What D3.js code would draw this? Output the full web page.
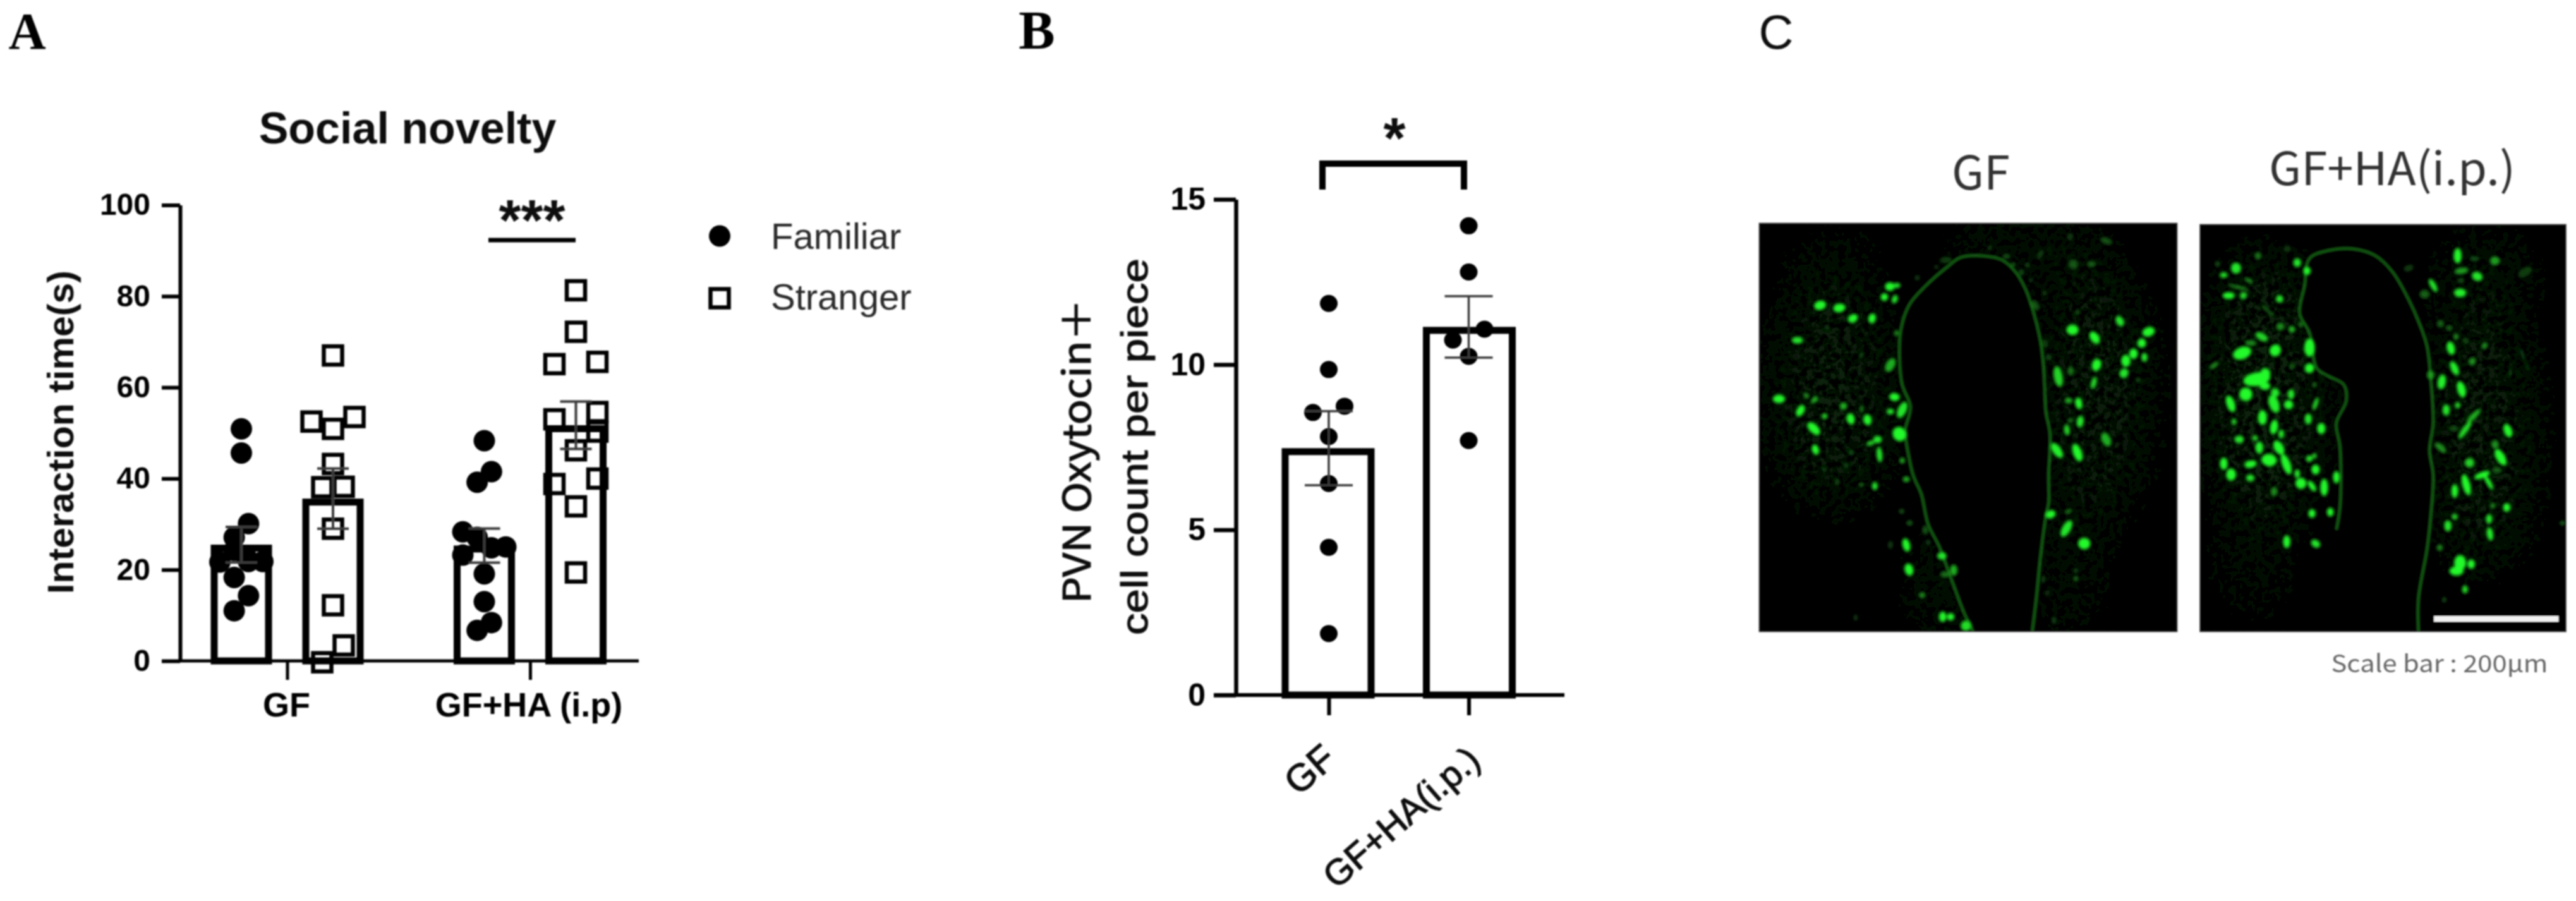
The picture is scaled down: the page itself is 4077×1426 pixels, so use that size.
<!DOCTYPE html>
<html><head><meta charset="utf-8">
<script src="https://cdn.jsdelivr.net/npm/d3@7/dist/d3.min.js"></script>
<style>
html,body{margin:0;padding:0;background:#fff}
svg{display:block}
text{font-family:"Liberation Sans",Arial,sans-serif}
</style></head><body><svg id="c" width="4077" height="1426"></svg>
<script>
// ---------- Panel A data ----------
const groupsA = ["GF", "GF+HA (i.p)"];
const seriesA = ["Familiar", "Stranger"];
const ticksA = [0, 20, 40, 60, 80, 100];
const meansA = [[25.5, 35.6], [25.3, 51.7]];
const semsA = [[3.9, 6.6], [3.75, 5.2]];
const gfFamiliar = [50.9, 45.6, 30.1, 27.1, 24.2, 21.8, 21.8, 21.7, 18.3, 14.3, 11, 23];
const gfFamiliarSlot = [0, 0, 1, -1, -1, 1, 3, -3, -1, 1, -1, 0.6];
const gfStranger = [67, 52.5, 53.5, 50.9, 43.2, 38.1, 38.2, 29, 12.2, 3.4, -0.3];
const gfStrangerSlot = [0, -3, 3, 0, 0, -1.5, 1.5, 0, 0, 1.5, -1.5];
const haFamiliar = [48.3, 41.5, 39.2, 28.3, 27.1, 23.2, 24.8, 25, 19.1, 13, 8.4, 6.7];
const haFamiliarSlot = [0, 1, -1, -3, -1, -3, 1, 3, 0, 0, 1, -1];
const haStranger = [81.3, 72.2, 65.1, 65.6, 54.6, 53, 46.2, 50.3, 38.8, 40, 33.9, 19.4];
const haStrangerSlot = [0, 0, -3, 3, 3, -3, 0, 3, -3, 3, 0, 0];
// ---------- Panel B data ----------
const groupsB = ["GF", "GF+HA(i.p.)"];
const ticksB = [0, 5, 10, 15];
const meansB = [7.47, 11.14];
const semsB = [1.12, 0.93];
const pointsB = [[11.85, 9.85, 8.55, 8.74, 7.82, 6.4, 4.47, 1.86], [14.2, 12.8, 11.07, 10.74, 10.25, 7.7]];
const slotsB = [[0, 0, -1, 1, 0, 0, 0, 0], [0, 0, 1, -1, 0, 0]];
// ---------- Panel C micrograph features: [x, y, rx, ry, tilt, level], in micrograph units ----------
const cellsGF = [[255,330,20,15,-15,1],[325,340,20,14,-10,1],[375,378,17,13,-30,1],[445,378,12,16,15,1],[510,262,16,14,0,1],[535,258,12,8,0,.9],[490,300,12,12,0,1],[528,308,9,14,20,.9],[172,458,18,11,0,.9],[105,672,20,14,0,1],[183,715,12,20,30,1],[205,660,8,10,-40,.6],[235,675,14,8,-40,.7],[340,698,12,12,0,.7],[272,735,9,9,0,.8],[367,745,13,18,-10,1],[428,748,13,18,-10,1],[407,708,6,12,0,.5],[527,665,17,13,5,1],[512,718,12,9,0,.9],[555,712,14,28,25,.9],[232,780,14,26,-45,1],[238,857,11,17,-15,1],[545,800,22,24,-30,1],[465,820,14,12,0,.9],[440,833,14,7,-20,.8],[472,875,9,25,-5,.9],[555,897,8,9,0,.7],[570,965,11,9,0,.7],[455,990,9,13,0,.9],[405,985,7,5,0,.6],[512,548,14,24,30,.7],[535,432,8,9,0,.6],[370,868,8,8,0,.35],[350,915,8,8,0,.35],[318,975,8,10,0,.3],[272,930,8,8,0,.3],[406,513,6,10,30,.35],[280,410,9,8,0,.25],[570,1205,12,22,-15,1],[580,1295,14,20,-15,1],[700,1245,15,12,0,.9],[743,1297,12,18,0,.7],[712,1312,16,10,0,.5],[628,1388,10,9,0,.6],[703,1467,12,17,0,1],[732,1467,12,12,0,1],[788,1500,17,17,0,.85],[512,1205,8,12,0,.3],[582,1125,9,8,0,.45],[553,1082,8,8,0,.4],[640,1150,10,14,0,.4],[650,1195,7,8,0,.35],[385,1470,6,10,0,.3],[1177,420,20,17,0,1],[1258,448,14,22,-35,1],[1350,388,12,18,-30,.9],[1455,427,21,15,-20,1],[1430,468,14,15,0,1],[1400,507,14,17,0,1],[1440,520,10,14,0,.9],[1372,533,15,20,0,1],[1365,578,14,16,30,.9],[1265,548,15,20,20,1],[1255,613,9,20,15,.8],[1125,590,14,34,-10,.8],[1170,570,10,15,0,.5],[1200,688,11,19,-10,1],[1162,678,12,9,0,.7],[1205,755,11,19,10,.9],[1157,785,9,18,-10,.8],[1170,750,10,7,0,.45],[1300,820,14,24,-25,.7],[1120,860,14,28,-35,.95],[1195,868,14,30,-20,1],[1097,1093,17,13,-20,1],[1162,1083,12,7,-25,.5],[1155,1145,14,30,30,.9],[1220,1200,20,19,0,1],[1180,180,16,16,0,.4],[1247,180,14,9,0,.45],[1300,95,20,10,20,.4],[1168,80,10,12,0,.3],[1060,145,8,18,30,.3],[1040,330,12,18,-30,.4],[1190,1328,8,8,0,.45],[1190,1298,7,7,0,.35],[1110,1480,7,12,0,.35],[1070,1330,7,12,0,.3],[1085,1380,7,8,0,.25],[1195,355,8,8,0,.3],[1075,285,8,7,0,.3],[1090,520,10,10,0,.35],[1075,470,12,14,0,.3],[1418,602,8,8,0,.3],[960,182,7,7,0,.45],[1012,183,7,7,0,.4],[990,210,10,10,0,.35],[1025,238,6,6,0,.35],[935,152,12,8,0,.4],[875,120,7,7,0,.3],[610,230,8,8,0,.3],[715,165,20,10,0,.3],[680,190,6,6,0,.3]];
const cellsHA = [[180,195,18,18,0,.9],[130,220,14,9,0,.85],[150,295,22,11,0,1],[210,295,12,12,40,.8],[232,240,18,6,30,.6],[190,265,40,5,15,.6],[270,150,12,12,0,.5],[105,180,8,8,0,.4],[430,175,14,14,0,.9],[470,205,13,13,0,1],[390,125,12,10,0,.3],[358,307,13,12,0,.9],[310,350,30,5,40,.4],[360,408,14,12,0,.6],[408,418,12,11,0,.7],[445,400,8,10,0,.5],[480,485,19,30,0,1],[480,560,17,16,30,1],[285,445,25,12,30,.8],[240,468,20,8,0,.6],[340,495,20,20,30,1],[205,505,34,20,-20,1],[90,550,18,7,-35,.6],[265,600,50,22,-10,1],[300,580,18,18,0,1],[298,625,20,12,0,1],[220,655,24,22,0,1],[158,690,15,28,-20,1],[340,650,15,15,0,.9],[405,655,12,16,0,.9],[395,693,16,15,0,1],[335,690,18,30,-20,.95],[288,740,16,24,0,1],[172,755,9,10,0,.8],[505,690,8,22,20,.8],[475,745,13,18,0,.9],[528,780,15,18,0,1],[335,775,14,24,10,1],[365,800,10,14,0,.9],[193,820,17,12,0,.9],[258,815,10,9,0,.8],[275,850,14,20,0,.95],[355,850,17,25,-30,1],[315,895,28,20,10,1],[240,910,22,12,-10,1],[130,908,14,20,0,1],[160,948,18,20,0,1],[238,960,15,11,0,.9],[385,910,15,35,-20,1],[480,890,12,10,-30,.9],[500,880,8,8,0,.8],[505,930,15,16,0,1],[430,945,10,14,0,.9],[445,980,20,18,0,1],[490,990,10,20,-35,1],[540,995,14,28,0,1],[590,958,12,20,0,1],[335,1010,12,14,0,.6],[490,1090,13,14,0,1],[565,1085,12,14,0,1],[387,1193,13,21,0,1],[505,1200,18,12,35,.9],[408,555,9,9,0,.45],[500,620,8,8,0,.45],[1085,150,14,25,0,1],[1165,225,20,14,25,.9],[1237,168,18,14,0,.65],[1155,160,18,8,0,.35],[1100,205,25,10,-10,.65],[985,258,10,24,-30,.9],[950,290,18,14,0,.45],[1095,285,22,14,0,.95],[1097,240,12,6,0,.4],[885,195,18,10,-20,.3],[1360,210,28,14,-30,.3],[1015,397,12,12,0,.45],[1050,413,12,9,0,.45],[1078,445,9,10,0,.6],[1118,460,9,9,0,.4],[1057,487,14,22,-15,1],[1072,560,13,24,-25,.95],[1145,535,12,13,0,.6],[1195,478,10,12,20,.6],[1020,610,15,24,10,.95],[1100,637,15,27,-15,1],[1085,695,9,10,0,.85],[1038,712,13,18,0,.9],[975,585,14,14,0,.6],[1150,735,10,30,45,.7],[1115,785,10,35,35,.85],[1290,788,14,23,-20,1],[1070,780,14,10,0,.4],[1015,850,25,10,40,.6],[1238,838,13,14,0,.6],[1260,885,16,30,-30,1],[1133,905,17,15,30,.8],[1185,950,30,10,-20,1],[1210,975,8,28,-30,1],[1245,932,18,10,0,.45],[1073,1008,12,22,0,1],[1120,985,14,35,-15,1],[1285,1068,13,14,0,1],[1228,1062,9,9,0,.6],[1213,1110,11,16,0,.9],[1217,1165,11,22,-10,.95],[1073,1102,11,9,0,.8],[1045,1135,13,18,0,.9],[1095,1270,22,25,0,1],[1080,1300,26,15,0,1],[1140,1275,14,15,0,1],[1115,1367,10,13,0,.85],[1012,1215,10,10,0,.6],[1030,1405,7,8,0,.4],[1513,1125,10,6,0,.5],[1350,510,5,20,-20,.35],[1370,555,4,18,-15,.3],[1300,575,6,12,0,.3]];
const hazeGF = [[300,650,230,430,0,.2],[1260,650,200,480,0,.2],[700,1350,110,200,0,.16],[1170,1300,120,240,0,.13],[1000,120,320,90,0,.16],[300,150,200,110,0,.09]];
const hazeHA = [[300,640,250,520,0,.22],[1180,800,220,520,0,.2],[250,1300,190,200,0,.09],[1200,200,240,130,0,.13],[1500,1400,40,120,0,.12]];
const lumenGF = [[815,1522],[780,1450],[735,1330],[690,1210],[650,1130],[625,1020],[595,950],[570,830],[565,790],[585,700],[555,620],[545,520],[550,420],[580,330],[640,260],[720,190],[770,155],[850,150],[920,165],[970,210],[1005,270],[1030,340],[1060,460],[1070,540],[1075,620],[1080,720],[1095,800],[1090,950],[1090,1050],[1080,1100],[1060,1250],[1045,1400],[1030,1522]];
const lumenHA = [[925,1522],[925,1400],[960,1220],[975,1100],[985,950],[970,860],[985,760],[975,600],[960,480],[930,400],[885,310],[820,210],[750,150],[660,125],[560,130],[480,160],[460,260],[440,360],[480,430],[510,560],[560,590],[620,620],[630,680],[590,760],[605,850],[605,1060],[590,1150],[520,1230],[470,1300],[460,1400],[380,1522]];

// ---------- Scaffold ----------
const svg = d3.select("#c");
const defs = svg.append("defs");
const filt = id => defs.append("filter").attr("id", id)
  .attr("filterUnits", "userSpaceOnUse").attr("x", 0).attr("y", 0).attr("width", 4077).attr("height", 1426);
const blur = (id, s) => filt(id).append("feGaussianBlur").attr("stdDeviation", s);
blur("soft", 1.1); blur("cell", 2.2); blur("wall", 1.8);
const hz = filt("haze");
hz.append("feGaussianBlur").attr("in", "SourceGraphic").attr("stdDeviation", 42).attr("result", "b");
hz.append("feTurbulence").attr("type", "fractalNoise").attr("baseFrequency", .1).attr("numOctaves", 2).attr("seed", 4).attr("result", "n");
hz.append("feColorMatrix").attr("in", "n").attr("type", "matrix").attr("values", "0 0 0 0 0  0 0 0 0 0  0 0 0 0 0  3 0 0 0 -1").attr("result", "m");
hz.append("feComposite").attr("in", "b").attr("in2", "m").attr("operator", "in");
const root = svg.append("g").attr("filter", "url(#soft)");
const INK = "#000", GREY = "#3a3a3a";

function label(parent, txt, x, y, o = {}) {
  const t = parent.append("text").attr("x", x).attr("y", y).text(txt)
    .attr("text-anchor", o.anchor || "middle").attr("font-size", o.size || 40)
    .attr("font-weight", o.weight || "normal").attr("fill", o.fill || INK);
  if (o.family) t.style("font-family", o.family);
  if (o.rot != null) t.attr("transform", `rotate(${o.rot} ${x} ${y})`);
  if (o.len) t.attr("textLength", o.len).attr("lengthAdjust", "spacingAndGlyphs");
  if (o.bold) t.attr("stroke", o.fill || INK).attr("stroke-width", o.bold);
  return t;
}
function styleAxis(g, w) {
  g.selectAll("path.domain").attr("stroke", INK).attr("stroke-width", w);
  g.selectAll("line").attr("stroke", INK).attr("stroke-width", w);
}
const serif = '"Liberation Serif",serif';
label(root, "A", 43, 77, {size: 82, weight: "bold", family: serif});
label(root, "B", 1641, 77, {size: 86, weight: "bold", family: serif});
label(root, "C", 2811, 77, {size: 76, fill: "#111"});

// ---------- Panel A ----------
const yA = d3.scaleLinear().domain([0, 100]).range([1046, 324.5]);
const xA = d3.scalePoint().domain(groupsA).range([454.5, 839]);
const offA = d3.scalePoint().domain(seriesA).range([-72.5, 72.5]);
const slotA = d3.scaleLinear().domain([-3, 3]).range([-34, 34]);
const gA = root.append("g");
const axLA = gA.append("g").attr("transform", "translate(285,0)")
  .call(d3.axisLeft(yA).tickValues(ticksA).tickSize(29).tickSizeOuter(0).tickPadding(18));
styleAxis(axLA, 6);
axLA.selectAll("text").attr("font-size", 48).attr("font-weight", "bold").attr("fill", INK).style("font-family", '"Liberation Sans"');
const axXA = gA.append("g").attr("transform", "translate(0,1046)")
  .call(d3.axisBottom(xA).tickSize(30).tickSizeOuter(0).tickFormat(""));
axXA.select("path.domain").attr("d", `M282,0H1011`);
styleAxis(axXA, 5);
groupsA.forEach((g, i) => label(gA, g, xA(g) - (i ? 2 : 1), 1134, {size: 54, weight: "bold"}));

const barW = 97, barSW = 11;
const barsA = groupsA.flatMap((g, i) => seriesA.map((s, j) => ({g, s, m: meansA[i][j], e: semsA[i][j]})));
gA.selectAll("rect.bar").data(barsA).join("rect").attr("class", "bar")
  .attr("x", d => xA(d.g) + offA(d.s) - barW / 2 + barSW / 2)
  .attr("width", barW - barSW)
  .attr("y", d => yA(d.m) + barSW / 2)
  .attr("height", d => yA(0) - yA(d.m) - barSW / 2)
  .attr("fill", "none").attr("stroke", INK).attr("stroke-width", barSW);

const ptsA = [
  [gfFamiliar, gfFamiliarSlot, groupsA[0], seriesA[0]],
  [gfStranger, gfStrangerSlot, groupsA[0], seriesA[1]],
  [haFamiliar, haFamiliarSlot, groupsA[1], seriesA[0]],
  [haStranger, haStrangerSlot, groupsA[1], seriesA[1]]
].flatMap(([v, sl, g, s]) => v.map((val, i) => ({val, slot: sl[i], g, s})));
const px = d => xA(d.g) + offA(d.s) + slotA(d.slot);
gA.selectAll("circle.p").data(ptsA.filter(d => d.s === "Familiar")).join("circle").attr("class", "p")
  .attr("cx", px).attr("cy", d => yA(d.val)).attr("r", 17).attr("fill", INK);
const sq = 29, sqSW = 6.5;
gA.selectAll("rect.p").data(ptsA.filter(d => d.s === "Stranger")).join("rect").attr("class", "p")
  .attr("x", d => px(d) - sq / 2).attr("y", d => yA(d.val) - sq / 2)
  .attr("width", sq).attr("height", sq).attr("fill", "none").attr("stroke", INK).attr("stroke-width", sqSW);

const errPath = (cx, hi, lo, cap) => {
  const p = d3.path();
  p.moveTo(cx, hi); p.lineTo(cx, lo);
  p.moveTo(cx - cap, hi); p.lineTo(cx + cap, hi);
  p.moveTo(cx - cap, lo); p.lineTo(cx + cap, lo);
  return p.toString();
};
gA.selectAll("path.err").data(barsA).join("path").attr("class", "err")
  .attr("d", d => errPath(xA(d.g) + offA(d.s), yA(d.m + d.e), yA(d.m - d.e), 25))
  .attr("fill", "none").attr("stroke", GREY).attr("stroke-width", 4);

gA.append("line").attr("x1", 773).attr("x2", 911).attr("y1", 380).attr("y2", 380).attr("stroke", INK).attr("stroke-width", 7);
label(gA, "***", 842, 380, {size: 90, weight: "bold", fill: "#111"});
label(gA, "Social novelty", 645, 227, {size: 70, weight: "bold", fill: "#111"});
label(gA, "Interaction time(s)", 116, 684, {size: 57, weight: "bold", rot: -90, len: 512, fill: "#111"});

// legend
const lg = gA.append("g");
lg.append("circle").attr("cx", 1139).attr("cy", 373.5).attr("r", 17).attr("fill", INK);
lg.append("rect").attr("x", 1139 - sq / 2).attr("y", 472 - sq / 2).attr("width", sq).attr("height", sq)
  .attr("fill", "none").attr("stroke", INK).attr("stroke-width", sqSW);
label(lg, seriesA[0], 1220, 394, {anchor: "start", size: 58, fill: "#2a2a2a"});
label(lg, seriesA[1], 1220, 490, {anchor: "start", size: 58, fill: "#2a2a2a"});

// ---------- Panel B ----------
const yB = d3.scaleLinear().domain([0, 15]).range([1100, 315.5]);
const xB = d3.scalePoint().domain(groupsB).range([2103, 2324.5]);
const slotB = d3.scaleLinear().domain([-1, 1]).range([-25, 25]);
const gB = root.append("g");
const axLB = gB.append("g").attr("transform", "translate(1956,0)")
  .call(d3.axisLeft(yB).tickValues(ticksB).tickSize(35).tickSizeOuter(0).tickPadding(13));
styleAxis(axLB, 6.5);
axLB.selectAll("text").attr("font-size", 50).attr("font-weight", "bold").attr("fill", INK).style("font-family", '"Liberation Sans"');
const axXB = gB.append("g").attr("transform", "translate(0,1100)")
  .call(d3.axisBottom(xB).tickSize(32).tickSizeOuter(0).tickFormat(""));
axXB.select("path.domain").attr("d", `M1921,0H2476`);
styleAxis(axXB, 6);
const barWB = 147, barSWB = 11;
const barsB = groupsB.map((g, i) => ({g, m: meansB[i], e: semsB[i]}));
gB.selectAll("rect.bar").data(barsB).join("rect").attr("class", "bar")
  .attr("x", d => xB(d.g) - barWB / 2 + barSWB / 2 + (d.g === groupsB[1] ? 1 : -1))
  .attr("width", barWB - barSWB)
  .attr("y", d => yB(d.m) + barSWB / 2)
  .attr("height", d => yB(0) - yB(d.m) - barSWB / 2)
  .attr("fill", "none").attr("stroke", INK).attr("stroke-width", barSWB);
const ptsB = groupsB.flatMap((g, i) => pointsB[i].map((v, k) => ({g, v, slot: slotsB[i][k]})));
gB.selectAll("ellipse.p").data(ptsB).join("ellipse").attr("class", "p")
  .attr("cx", d => xB(d.g) + slotB(d.slot)).attr("cy", d => yB(d.v)).attr("rx", 14).attr("ry", 13.5).attr("fill", INK);
gB.selectAll("path.err").data(barsB).join("path").attr("class", "err")
  .attr("d", d => errPath(xB(d.g), yB(d.m + d.e), yB(d.m - d.e), 38))
  .attr("fill", "none").attr("stroke", GREY).attr("stroke-width", 3.5);
const br = d3.path();
br.moveTo(2093, 300); br.lineTo(2093, 259); br.lineTo(2317, 259); br.lineTo(2317, 300);
gB.append("path").attr("d", br.toString()).attr("fill", "none").attr("stroke", INK).attr("stroke-width", 10);
label(gB, "*", 2207, 250, {size: 90, weight: "bold", fill: "#111"});
label(gB, "PVN Oxytocin＋", 1726, 714, {size: 60, rot: -90, len: 482, fill: "#111", family: '"Noto Sans CJK JP"', bold: 1.2});
label(gB, "cell count per piece", 1816, 707, {size: 60, rot: -90, len: 596, fill: "#111", bold: 1.2});
groupsB.forEach((g, i) => {
  const a = i ? [2346, 1190] : [2118, 1188];
  label(gB, g, a[0], a[1] + 18, {anchor: "end", size: i ? 57 : 60, rot: -41, fill: "#111", bold: 1.4});
});

// ---------- Panel C ----------
function micrograph(id, box, cells, haze, lumen, walls) {
  const g = root.append("g");
  const mx = d3.scaleLinear().domain([32, box.uMaxX]).range([box.x0, box.x1]);
  const my = d3.scaleLinear().domain([box.uMinY, 1522]).range([box.y0, box.y1]);
  const k = (box.x1 - box.x0) / (box.uMaxX - 32), ky = (box.y1 - box.y0) / (1522 - box.uMinY);
  defs.append("clipPath").attr("id", id).append("rect")
    .attr("x", box.x0).attr("y", box.y0).attr("width", box.x1 - box.x0).attr("height", box.y1 - box.y0);
  const inner = g.append("g").attr("clip-path", `url(#${id})`);
  inner.append("rect").attr("x", box.x0).attr("y", box.y0).attr("width", box.x1 - box.x0).attr("height", box.y1 - box.y0).attr("fill", "#000");
  const ell = (sel, data, cls, f) => sel.selectAll("ellipse." + cls).data(data).join("ellipse").attr("class", cls)
    .attr("rx", d => d[2] * k * f).attr("ry", d => d[3] * ky * f)
    .attr("transform", d => `translate(${mx(d[0])},${my(d[1])}) rotate(${d[4]})`);
  ell(inner.append("g").attr("filter", "url(#haze)"), haze, "h", 1).attr("fill", "#2aa02a").attr("opacity", d => d[5]);
  const ln = d3.line().x(d => mx(d[0])).y(d => my(d[1])).curve(d3.curveCatmullRom);
  inner.append("path").attr("d", ln(lumen) + "Z").attr("fill", "#000");
  inner.append("g").attr("filter", "url(#wall)").selectAll("path").data(walls).join("path")
    .attr("d", d => ln(d)).attr("fill", "none").attr("stroke", "#1f9f1f").attr("stroke-width", 4.5).attr("opacity", .62);
  ell(inner.append("g").attr("filter", "url(#cell)"), cells, "c", 1.1)
    .attr("fill", d => d3.rgb(20 + 16 * d[5], 60 + 190 * d[5], 20 + 24 * d[5]).formatHex())
    .attr("opacity", d => Math.min(1, d[5] + .2));
  g.append("rect").attr("x", box.x0).attr("y", box.y0).attr("width", box.x1 - box.x0).attr("height", box.y1 - box.y0)
    .attr("fill", "none").attr("stroke", "#666").attr("stroke-width", 1);
  return {mx, my};
}
micrograph("clipGF", {x0: 2784, x1: 3446, y0: 353, y1: 1000, uMaxX: 1560, uMinY: 30}, cellsGF, hazeGF, lumenGF, [lumenGF]);
const mHA = micrograph("clipHA", {x0: 3481.5, x1: 4061.5, y0: 355, y1: 1000, uMaxX: 1528, uMinY: 35}, cellsHA, hazeHA, lumenHA, [lumenHA.slice(0, 27)]);
root.append("line").attr("x1", mHA.mx(988)).attr("x2", mHA.mx(1497)).attr("y1", mHA.my(1475)).attr("y2", mHA.my(1475))
  .attr("stroke", "#f2f2f2").attr("stroke-width", 9);
const jp = '"Noto Sans CJK JP",sans-serif';
label(root, "GF", 3135, 300, {size: 74, family: jp, fill: "#333"});
label(root, "GF+HA(i.p.)", 3786, 293, {size: 72, family: jp, fill: "#333", len: 390});
label(root, "Scale bar : 200μm", 3861, 1064, {size: 38, family: jp, fill: "#666", len: 343});
</script></body></html>
